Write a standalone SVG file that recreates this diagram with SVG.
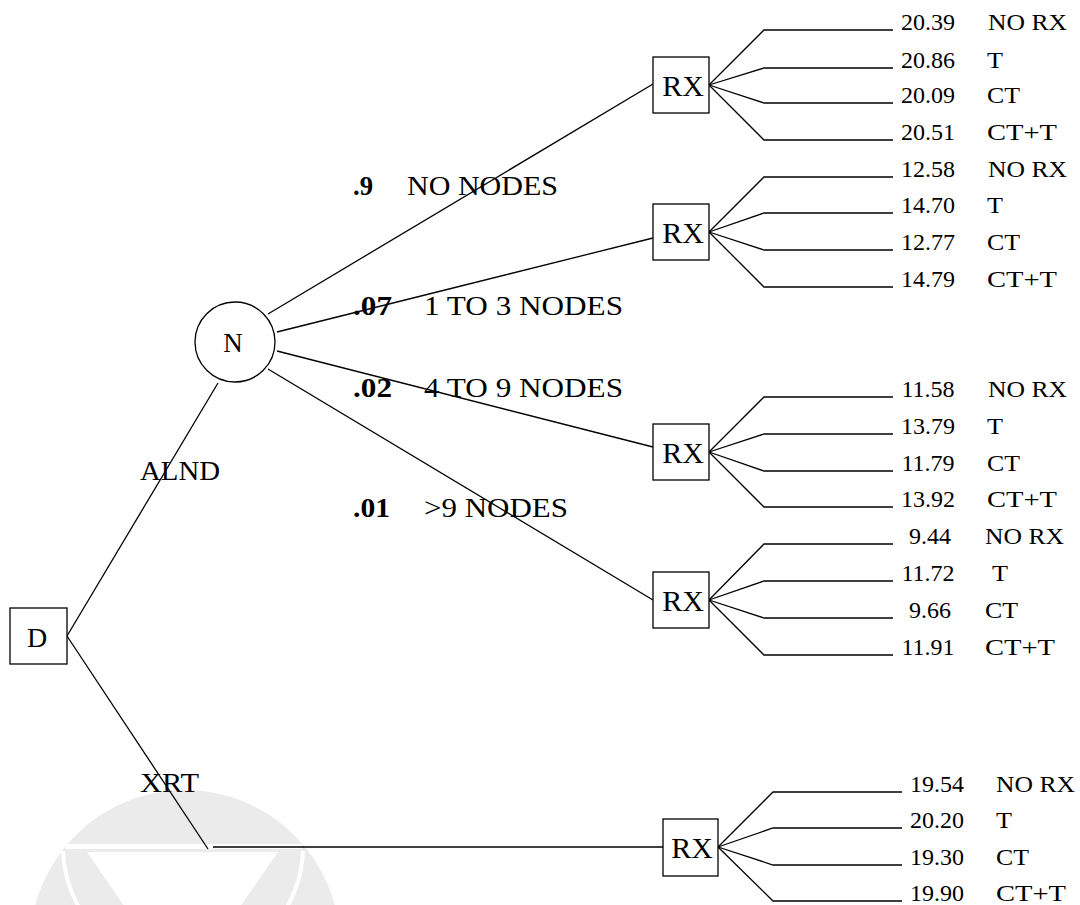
<svg xmlns="http://www.w3.org/2000/svg" width="1080" height="905" viewBox="0 0 1080 905">
  <style>
    .ln { stroke: #000; stroke-width: 1.3; fill: none; }
    .box { stroke: #000; stroke-width: 1.3; fill: #fff; }
    .nd { font-family: "Liberation Serif", "Times New Roman", serif; font-size: 30px; fill: #000; text-anchor: middle; }
    .lbl { font-family: "Liberation Serif", "Times New Roman", serif; font-size: 27px; fill: #000; }
    .pr { font-family: "Liberation Serif", "Times New Roman", serif; font-size: 27px; font-weight: bold; fill: #000; }
    .val { font-family: "Liberation Serif", "Times New Roman", serif; font-size: 24px; fill: #000; text-anchor: middle; }
    .opt { font-family: "Liberation Serif", "Times New Roman", serif; font-size: 24px; fill: #000; }
  </style>
  <defs>
    <clipPath id="lowerHalf">
      <rect x="0" y="851" width="400" height="60"/>
    </clipPath>
  </defs>

  <rect width="1080" height="905" fill="#fff"/>

  <!-- faint emblem, lower left -->
  <g id="emblem">
    <circle cx="185" cy="945" r="155" fill="#ebebeb"/>
    <rect x="66" y="844" width="236" height="5" fill="#fff"/>
    <polygon points="87,852 278,852 182,990" fill="#fff"/>
    <g clip-path="url(#lowerHalf)">
      <circle cx="183" cy="847" r="120" fill="none" stroke="#fff" stroke-width="4"/>
    </g>
  </g>

  <!-- connectors -->
  <g id="connectors" class="ln">
    <line x1="67" y1="636" x2="218" y2="383"/>
    <line x1="67" y1="636" x2="208" y2="849"/>
    <line x1="213" y1="847" x2="663" y2="847"/>
    <line x1="268" y1="314" x2="653" y2="84"/>
    <line x1="277" y1="332" x2="653" y2="238"/>
    <line x1="277" y1="351" x2="653" y2="447"/>
    <line x1="268" y1="369" x2="653" y2="600"/>
    <!-- fan from RX 1 -->
    <polyline points="709,85 764,30 893,30"/>
    <polyline points="709,85 764,68 893,68"/>
    <polyline points="709,85 764,103 893,103"/>
    <polyline points="709,85 764,140 893,140"/>
    <!-- fan from RX 2 -->
    <polyline points="709,232 764,177 893,177"/>
    <polyline points="709,232 764,213 893,213"/>
    <polyline points="709,232 764,250 893,250"/>
    <polyline points="709,232 764,287 893,287"/>
    <!-- fan from RX 3 -->
    <polyline points="709,452 764,397 893,397"/>
    <polyline points="709,452 764,434 893,434"/>
    <polyline points="709,452 764,471 893,471"/>
    <polyline points="709,452 764,507 893,507"/>
    <!-- fan from RX 4 -->
    <polyline points="709,600 764,544 893,544"/>
    <polyline points="709,600 764,581 893,581"/>
    <polyline points="709,600 764,618 893,618"/>
    <polyline points="709,600 764,655 893,655"/>
    <!-- fan from RX 5 -->
    <polyline points="718,847 773,792 902,792"/>
    <polyline points="718,847 773,828 902,828"/>
    <polyline points="718,847 773,865 902,865"/>
    <polyline points="718,847 773,901 902,901"/>
  </g>

  <!-- branch labels -->
  <g id="branch-labels">
    <text class="lbl" x="140" y="480" textLength="80" lengthAdjust="spacingAndGlyphs">ALND</text>
    <text class="lbl" x="140" y="792" textLength="59" lengthAdjust="spacingAndGlyphs">XRT</text>
    <text class="pr" x="353" y="195" textLength="20" lengthAdjust="spacingAndGlyphs">.9</text>
    <text class="lbl" x="407" y="195" textLength="151" lengthAdjust="spacingAndGlyphs">NO NODES</text>
    <text class="pr" x="353" y="315" textLength="39" lengthAdjust="spacingAndGlyphs">.07</text>
    <text class="lbl" x="424" y="315" textLength="199" lengthAdjust="spacingAndGlyphs">1 TO 3 NODES</text>
    <text class="pr" x="353" y="397" textLength="39" lengthAdjust="spacingAndGlyphs">.02</text>
    <text class="lbl" x="424" y="397" textLength="199" lengthAdjust="spacingAndGlyphs">4 TO 9 NODES</text>
    <text class="pr" x="353" y="517" textLength="37" lengthAdjust="spacingAndGlyphs">.01</text>
    <text class="lbl" x="424" y="517" textLength="144" lengthAdjust="spacingAndGlyphs">&gt;9 NODES</text>
  </g>

  <!-- decision node -->
  <g id="node-D">
    <rect class="box" x="10" y="608" width="57" height="56"/>
    <text class="nd" x="37" y="647" style="font-size:28px">D</text>
  </g>

  <!-- chance node -->
  <g id="node-N">
    <circle class="box" cx="235" cy="342" r="40"/>
    <text class="nd" x="233" y="352" style="font-size:27px">N</text>
  </g>

  <!-- treatment nodes -->
  <g id="node-RX1">
    <rect class="box" x="653" y="57" width="56" height="56"/>
    <text class="nd" x="683" y="96">RX</text>
  </g>
  <g id="node-RX2">
    <rect class="box" x="653" y="204" width="56" height="56"/>
    <text class="nd" x="683" y="243">RX</text>
  </g>
  <g id="node-RX3">
    <rect class="box" x="653" y="424" width="56" height="56"/>
    <text class="nd" x="683" y="463">RX</text>
  </g>
  <g id="node-RX4">
    <rect class="box" x="653" y="572" width="56" height="56"/>
    <text class="nd" x="683" y="611">RX</text>
  </g>
  <g id="node-RX5">
    <rect class="box" x="663" y="819" width="55" height="57"/>
    <text class="nd" x="692" y="858">RX</text>
  </g>

  <!-- outcomes -->
  <g id="outcomes-RX1">
    <text class="val" x="928" y="30">20.39</text>
    <text class="opt" x="988" y="30" textLength="79" lengthAdjust="spacingAndGlyphs">NO RX</text>
    <text class="val" x="928" y="68">20.86</text>
    <text class="opt" x="987" y="68" textLength="16" lengthAdjust="spacingAndGlyphs">T</text>
    <text class="val" x="928" y="103">20.09</text>
    <text class="opt" x="987" y="103" textLength="33" lengthAdjust="spacingAndGlyphs">CT</text>
    <text class="val" x="928" y="140">20.51</text>
    <text class="opt" x="987" y="140" textLength="70" lengthAdjust="spacingAndGlyphs">CT+T</text>
  </g>
  <g id="outcomes-RX2">
    <text class="val" x="928" y="177">12.58</text>
    <text class="opt" x="988" y="177" textLength="79" lengthAdjust="spacingAndGlyphs">NO RX</text>
    <text class="val" x="928" y="213">14.70</text>
    <text class="opt" x="987" y="213" textLength="16" lengthAdjust="spacingAndGlyphs">T</text>
    <text class="val" x="928" y="250">12.77</text>
    <text class="opt" x="987" y="250" textLength="33" lengthAdjust="spacingAndGlyphs">CT</text>
    <text class="val" x="928" y="287">14.79</text>
    <text class="opt" x="987" y="287" textLength="70" lengthAdjust="spacingAndGlyphs">CT+T</text>
  </g>
  <g id="outcomes-RX3">
    <text class="val" x="928" y="397">11.58</text>
    <text class="opt" x="988" y="397" textLength="79" lengthAdjust="spacingAndGlyphs">NO RX</text>
    <text class="val" x="928" y="434">13.79</text>
    <text class="opt" x="987" y="434" textLength="16" lengthAdjust="spacingAndGlyphs">T</text>
    <text class="val" x="928" y="471">11.79</text>
    <text class="opt" x="987" y="471" textLength="33" lengthAdjust="spacingAndGlyphs">CT</text>
    <text class="val" x="928" y="507">13.92</text>
    <text class="opt" x="987" y="507" textLength="70" lengthAdjust="spacingAndGlyphs">CT+T</text>
  </g>
  <g id="outcomes-RX4">
    <text class="val" x="930" y="544">9.44</text>
    <text class="opt" x="985" y="544" textLength="79" lengthAdjust="spacingAndGlyphs">NO RX</text>
    <text class="val" x="928" y="581">11.72</text>
    <text class="opt" x="992" y="581" textLength="16" lengthAdjust="spacingAndGlyphs">T</text>
    <text class="val" x="930" y="618">9.66</text>
    <text class="opt" x="985" y="618" textLength="33" lengthAdjust="spacingAndGlyphs">CT</text>
    <text class="val" x="928" y="655">11.91</text>
    <text class="opt" x="985" y="655" textLength="70" lengthAdjust="spacingAndGlyphs">CT+T</text>
  </g>
  <g id="outcomes-RX5">
    <text class="val" x="937" y="792">19.54</text>
    <text class="opt" x="996" y="792" textLength="79" lengthAdjust="spacingAndGlyphs">NO RX</text>
    <text class="val" x="937" y="828">20.20</text>
    <text class="opt" x="996" y="828" textLength="16" lengthAdjust="spacingAndGlyphs">T</text>
    <text class="val" x="937" y="865">19.30</text>
    <text class="opt" x="996" y="865" textLength="33" lengthAdjust="spacingAndGlyphs">CT</text>
    <text class="val" x="937" y="901">19.90</text>
    <text class="opt" x="996" y="901" textLength="70" lengthAdjust="spacingAndGlyphs">CT+T</text>
  </g>
</svg>
